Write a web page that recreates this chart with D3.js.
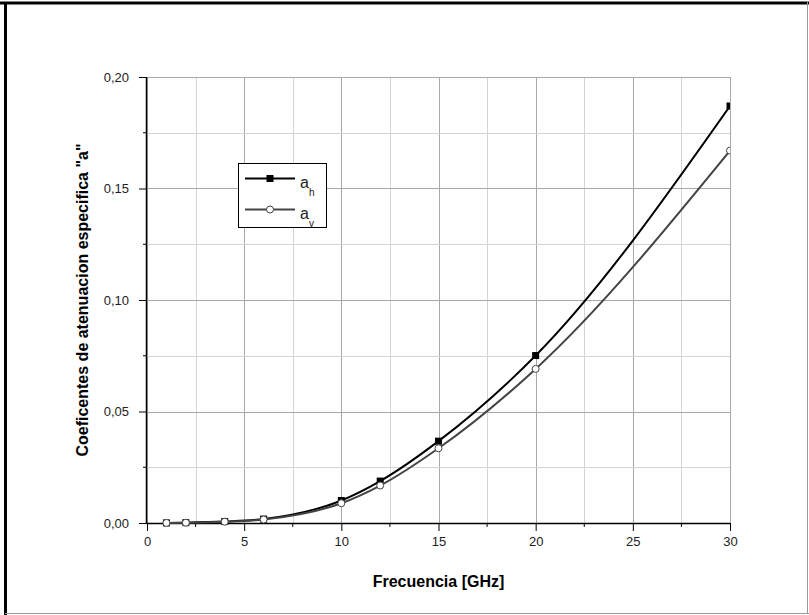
<!DOCTYPE html>
<html>
<head>
<meta charset="utf-8">
<script src="https://cdn.jsdelivr.net/npm/d3@7"></script>
<style>
    body { margin: 0; background: white; }
    #visual { width: 809px; height: 615px; }
    text { font-family: 'Liberation Sans', Arial, sans-serif; }
</style>
</head>
<body>
<div id="visual"></div>
<script>
// frecuencias (GHz) y coeficientes k de la recomendacion
var freqs = [1, 2, 4, 6, 10, 12, 15, 20, 30];
var a_h = [0.0000387, 0.000154, 0.00065, 0.00175, 0.0101, 0.0188, 0.0367, 0.0751, 0.187];
var a_v = [0.0000352, 0.000138, 0.000591, 0.00155, 0.00887, 0.0168, 0.0335, 0.0691, 0.167];
var x_ticks = [0, 5, 10, 15, 20, 25, 30];
var y_ticks = [0, 0.05, 0.10, 0.15, 0.20];
var x_label = 'Frecuencia [GHz]';
var y_label = 'Coeficentes de atenuacion especifica "a"';

var margin = { top: 77, left: 147, right: 79, bottom: 92 };
var W = 809, H = 615;
var width = W - margin.left - margin.right;
var height = H - margin.top - margin.bottom;

var root = d3.select('#visual')
    .append('svg')
    .attr('width', W)
    .attr('height', H);

// marco exterior
root.append('line').attr('x1', 0).attr('x2', W).attr('y1', 3).attr('y2', 3)
    .attr('stroke', '#000').attr('stroke-width', 3);
root.append('line').attr('x1', 5.5).attr('x2', 5.5).attr('y1', 2).attr('y2', H)
    .attr('stroke', '#000').attr('stroke-width', 3);
root.append('line').attr('x1', 5).attr('x2', W).attr('y1', 613.5).attr('y2', 613.5)
    .attr('stroke', '#999').attr('stroke-width', 1);
root.append('line').attr('x1', 807.5).attr('x2', 807.5).attr('y1', 2).attr('y2', 614)
    .attr('stroke', '#999').attr('stroke-width', 1);

var svg = root.append('g')
    .attr('transform', 'translate(' + margin.left + ',' + margin.top + ')');

var x_scale = d3.scaleLinear().domain([0, 30]).range([0, width]);
var y_scale = d3.scaleLinear().domain([0, 0.20]).range([height, 0]);

// rejilla
var xs = d3.range(0, 30.01, 2.5);
var ys = d3.range(0, 0.2001, 0.025);
svg.selectAll('.vgrid').data(xs).enter().append('line')
    .attr('class', 'vgrid')
    .attr('x1', function (d) { return Math.round(x_scale(d)) + 0.5; })
    .attr('x2', function (d) { return Math.round(x_scale(d)) + 0.5; })
    .attr('y1', 0).attr('y2', height)
    .attr('stroke', function (d, i) { return i % 2 == 0 ? '#a8a8a8' : '#d4d4d4'; });
svg.selectAll('.hgrid').data(ys).enter().append('line')
    .attr('class', 'hgrid')
    .attr('y1', function (d) { return Math.round(y_scale(d)) + 0.5; })
    .attr('y2', function (d) { return Math.round(y_scale(d)) + 0.5; })
    .attr('x1', 0).attr('x2', width)
    .attr('stroke', function (d, i) { return i % 2 == 0 ? '#a8a8a8' : '#d4d4d4'; });

// ejes
var fmt = function (d) { return d3.format('.2f')(d).replace('.', ','); };
var x_axis = d3.axisBottom(x_scale).tickValues(x_ticks).tickSize(8).tickPadding(6);
var y_axis = d3.axisLeft(y_scale).tickValues(y_ticks).tickSize(8).tickPadding(10).tickFormat(fmt);

var gx = svg.append('g')
    .attr('class', 'x axis')
    .attr('transform', 'translate(0,' + height + ')')
    .call(x_axis);
var gy = svg.append('g')
    .attr('class', 'y axis')
    .call(y_axis);

[gx, gy].forEach(function (g) {
    g.select('.domain').attr('stroke', '#000').attr('stroke-width', 1.5);
    g.selectAll('.tick line').attr('stroke', '#000');
    g.selectAll('.tick text').attr('font-size', '13px').attr('fill', '#222')
        .attr('font-family', "'Liberation Sans', Arial, sans-serif");
});
gx.select('.domain').attr('d', 'M0,0.5H' + width);
gy.select('.domain').attr('d', 'M-0.5,0V' + height);

// ticks menores
svg.selectAll('.xminor').data(d3.range(2.5, 30, 5)).enter().append('line')
    .attr('x1', function (d) { return x_scale(d); })
    .attr('x2', function (d) { return x_scale(d); })
    .attr('y1', height).attr('y2', height + 4)
    .attr('stroke', '#000');
svg.selectAll('.yminor').data(d3.range(0.025, 0.2, 0.05)).enter().append('line')
    .attr('y1', function (d) { return y_scale(d); })
    .attr('y2', function (d) { return y_scale(d); })
    .attr('x1', 0).attr('x2', -4)
    .attr('stroke', '#000');

// titulos
svg.append('text')
    .attr('x', width / 2).attr('y', height + 64)
    .attr('text-anchor', 'middle')
    .attr('font-size', '16px').attr('font-weight', 'bold')
    .text(x_label);
svg.append('text')
    .attr('transform', 'translate(' + (88 - margin.left) + ',' + (height / 2) + ') rotate(-90)')
    .attr('text-anchor', 'middle')
    .attr('font-size', '16px').attr('font-weight', 'bold')
    .text(y_label);

// curvas
svg.append('clipPath').attr('id', 'clip')
    .append('rect').attr('x', -20).attr('y', -20)
    .attr('width', width + 20).attr('height', height + 40);

var plot = svg.append('g').attr('clip-path', 'url(#clip)');

var series = [
    { key: 'h', values: a_h, colour: '#000', fill: '#000', shape: 'square' },
    { key: 'v', values: a_v, colour: '#444', fill: '#fff', shape: 'circle' }
];

var line = d3.line()
    .x(function (d) { return x_scale(d[0]); })
    .y(function (d) { return y_scale(d[1]); })
    .curve(d3.curveMonotoneX);

series.forEach(function (s) {
    var pts = freqs.map(function (f, i) { return [f, s.values[i]]; });
    plot.append('path')
        .datum(pts)
        .attr('d', line)
        .attr('fill', 'none')
        .attr('stroke', s.colour)
        .attr('stroke-width', 2);
    if (s.shape == 'square') {
        plot.selectAll('.sq').data(pts).enter().append('rect')
            .attr('x', function (d) { return x_scale(d[0]) - 3.5; })
            .attr('y', function (d) { return y_scale(d[1]) - 3.5; })
            .attr('width', 7).attr('height', 7)
            .attr('fill', '#000');
    } else {
        plot.selectAll('.ci').data(pts).enter().append('circle')
            .attr('cx', function (d) { return x_scale(d[0]); })
            .attr('cy', function (d) { return y_scale(d[1]); })
            .attr('r', 3.5)
            .attr('fill', '#fff')
            .attr('stroke', s.colour)
            .attr('stroke-width', 1);
    }
});

// leyenda
var legend = root.append('g').attr('transform', 'translate(238,163)');
legend.append('rect')
    .attr('x', 0.5).attr('y', 0.5).attr('width', 88).attr('height', 64)
    .attr('fill', '#fff').attr('stroke', '#000');

series.forEach(function (s, i) {
    var yy = 15.5 + i * 31;
    legend.append('line')
        .attr('x1', 7).attr('x2', 57).attr('y1', yy).attr('y2', yy)
        .attr('stroke', s.colour).attr('stroke-width', 2);
    if (s.shape == 'square') {
        legend.append('rect').attr('x', 28.5).attr('y', yy - 3.5)
            .attr('width', 7).attr('height', 7).attr('fill', '#000');
    } else {
        legend.append('circle').attr('cx', 32).attr('cy', yy).attr('r', 3.5)
            .attr('fill', '#fff').attr('stroke', s.colour);
    }
    var t = legend.append('text')
        .attr('x', 62).attr('y', yy + 9)
        .attr('font-size', '16px').attr('fill', '#222');
    t.append('tspan').text('a');
    t.append('tspan').attr('dy', 8).attr('font-size', '10px').text(s.key);
});
</script>
</body>
</html>
